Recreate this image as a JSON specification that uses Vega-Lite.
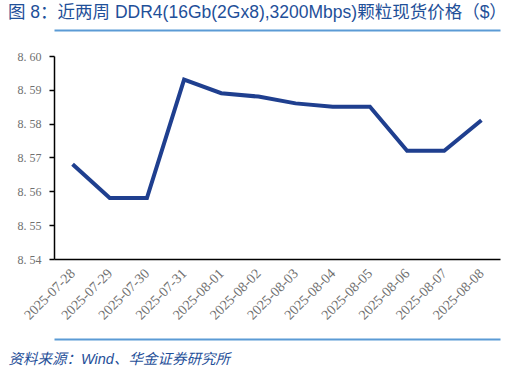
{
  "$schema": "https://vega.github.io/schema/vega-lite/v6.json",
  "width": 446,
  "height": 203,
  "autosize": {"type": "none"},
  "padding": {"left": 54, "top": 56, "right": 30, "bottom": 111},
  "background": "white",
  "config": {"view": {"stroke": null}},
  "title": {
    "text": "图 8：近两周 DDR4(16Gb(2Gx8),3200Mbps)颗粒现货价格（$）",
    "anchor": "start",
    "frame": "group",
    "dx": -46,
    "offset": 9,
    "font": "Liberation Sans, Noto Sans CJK SC",
    "fontSize": 17.5,
    "fontWeight": "normal",
    "color": "#1F5099"
  },
  "data": {
    "values": [
      {"date": "2025-07-28", "price": 8.568},
      {"date": "2025-07-29", "price": 8.558},
      {"date": "2025-07-30", "price": 8.558},
      {"date": "2025-07-31", "price": 8.593},
      {"date": "2025-08-01", "price": 8.589},
      {"date": "2025-08-02", "price": 8.588},
      {"date": "2025-08-03", "price": 8.586},
      {"date": "2025-08-04", "price": 8.585},
      {"date": "2025-08-05", "price": 8.585},
      {"date": "2025-08-06", "price": 8.572},
      {"date": "2025-08-07", "price": 8.572},
      {"date": "2025-08-08", "price": 8.581}
    ]
  },
  "resolve": {"axis": {"x": "independent"}},
  "layer": [
    {
      "mark": {"type": "line", "color": "#1F3F8F", "strokeWidth": 4, "strokeJoin": "miter"},
      "encoding": {
        "x": {
          "field": "date", "type": "ordinal",
          "scale": {"type": "point", "padding": 0.5},
          "axis": {
            "orient": "bottom",
            "title": null,
            "labelAngle": -45,
            "labelAlign": "right",
            "labelBaseline": "middle",
            "labelPadding": 12,
            "labelOverlap": false,
            "labelFont": "Liberation Serif",
            "labelFontSize": 14,
            "labelColor": "#707070",
            "ticks": false,
            "domainColor": "#000000",
            "domainWidth": 1.5,
            "grid": false
          }
        },
        "y": {
          "field": "price", "type": "quantitative",
          "scale": {"domain": [8.54, 8.6], "zero": false, "nice": false},
          "axis": {
            "title": null,
            "values": [8.54, 8.55, 8.56, 8.57, 8.58, 8.59, 8.6],
            "tickCount": 7,
            "labelExpr": "replace(format(datum.value, '.2f'), '.', '. ')",
            "labelOverlap": false,
            "grid": false,
            "labelFont": "Liberation Serif",
            "labelFontSize": 12,
            "labelColor": "#707070",
            "labelPadding": 8,
            "tickColor": "#000000",
            "tickSize": 5,
            "tickWidth": 1.5,
            "domainColor": "#000000",
            "domainWidth": 1.5
          }
        }
      }
    },
    {
      "mark": {"type": "line", "opacity": 0},
      "encoding": {
        "x": {
          "field": "date", "type": "ordinal",
          "axis": {
            "orient": "bottom",
            "offset": 80,
            "labels": false,
            "ticks": false,
            "grid": false,
            "domainColor": "#5B9BD5",
            "domainWidth": 2,
            "title": "资料来源：Wind、华金证券研究所",
            "titleFont": "Liberation Sans, Noto Sans CJK SC",
            "titleFontSize": 14.5,
            "titleFontWeight": "normal",
            "titleFontStyle": "italic",
            "titleColor": "#1F5099",
            "titleAnchor": "start",
            "titleAlign": "left",
            "titleX": -46,
            "titleY": 20,
            "titleBaseline": "middle"
          }
        }
      }
    },
    {
      "mark": {"type": "line", "opacity": 0},
      "encoding": {
        "x": {
          "field": "date", "type": "ordinal",
          "axis": {
            "orient": "top",
            "offset": 26,
            "labels": false,
            "ticks": false,
            "grid": false,
            "title": null,
            "domainColor": "#5B9BD5",
            "domainWidth": 2
          }
        }
      }
    }
  ]
}
